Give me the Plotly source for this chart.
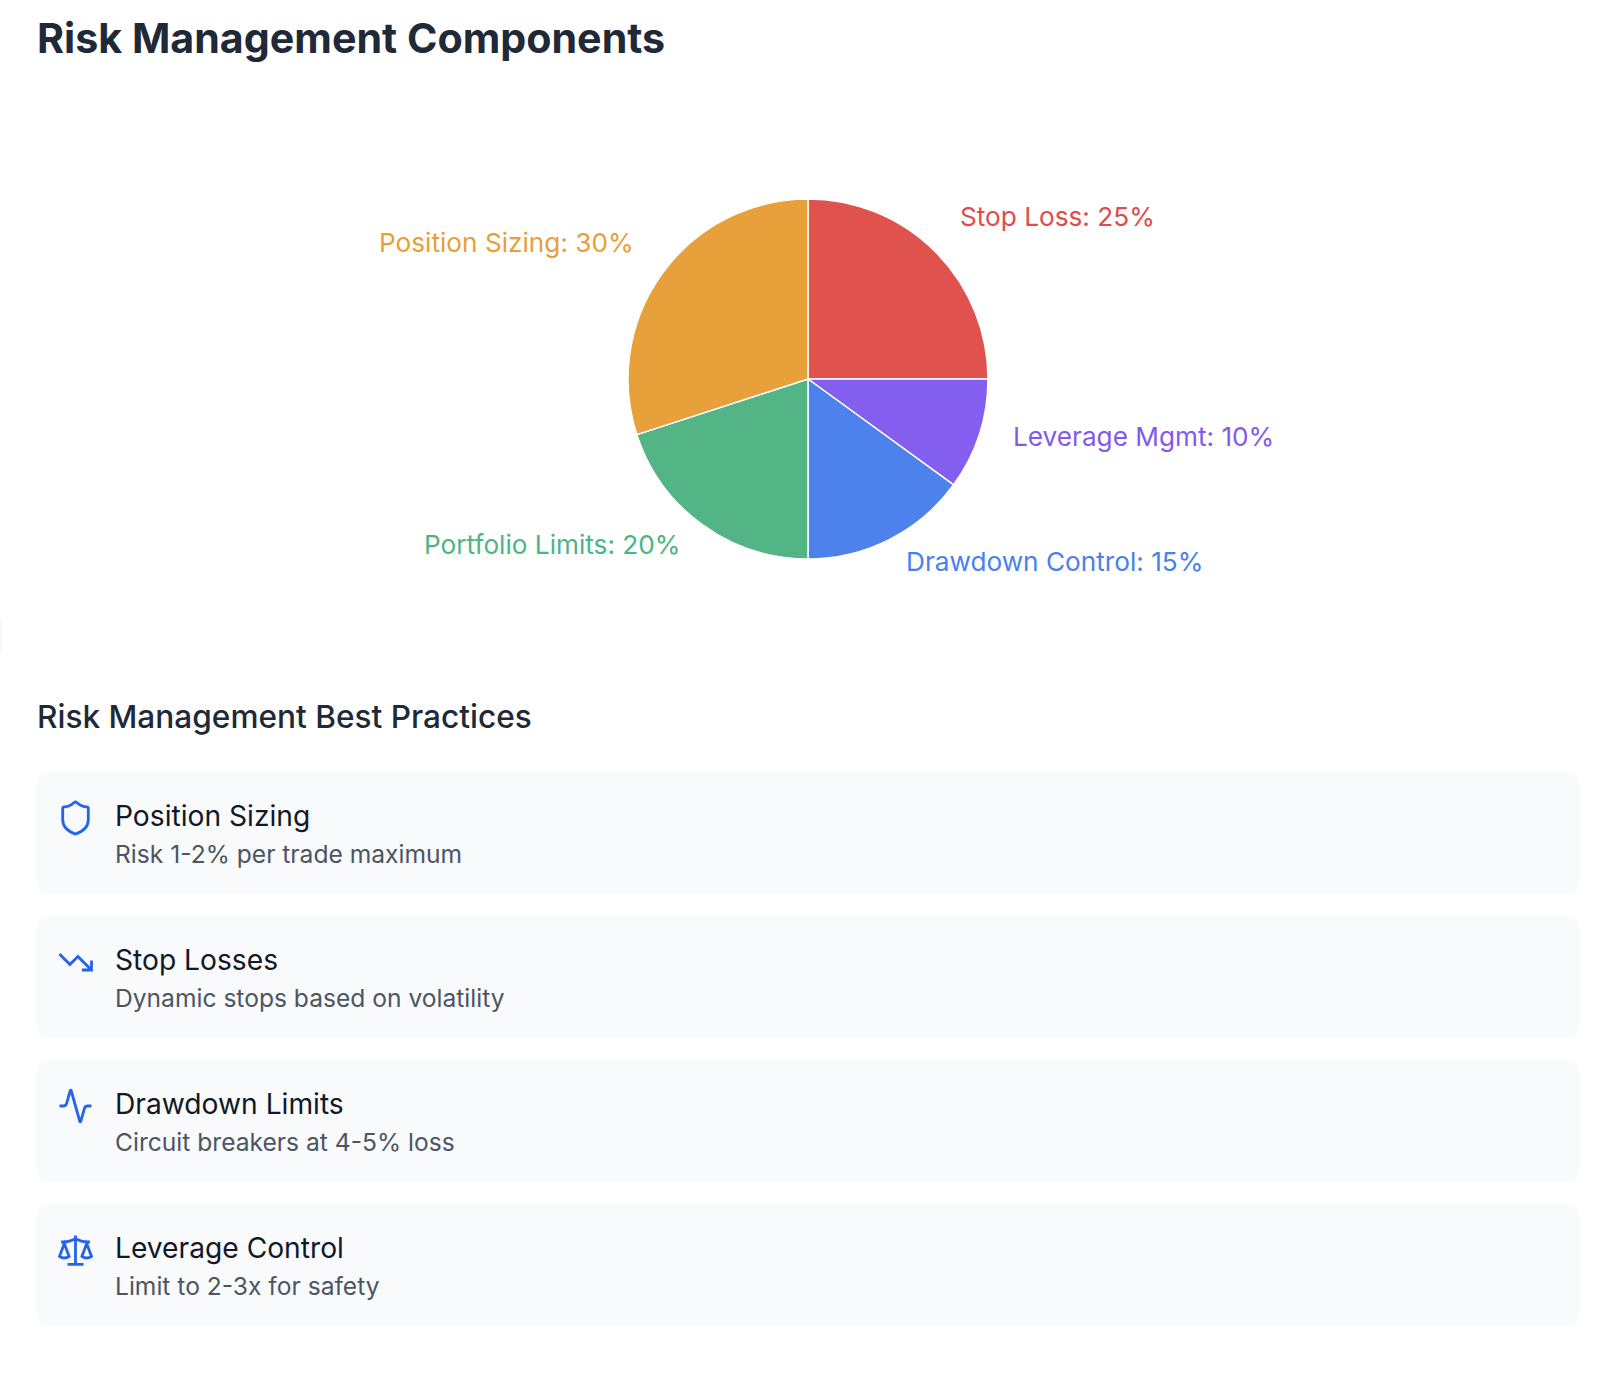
import math
import re

import plotly.graph_objects as go

# pie data, clockwise from 12 o'clock
slice_names = ["Stop Loss", "Leverage Mgmt", "Drawdown Control", "Portfolio Limits", "Position Sizing"]
slice_values = [25, 10, 15, 20, 30]
slice_colors = ["#DF524E", "#845FEF", "#4D82EC", "#53B585", "#E8A13A"]
label_colors = ["#E04B4B", "#8259EF", "#4A80EE", "#4CB582", "#E89F36"]

card_titles = ["Position Sizing", "Stop Losses", "Drawdown Limits", "Leverage Control"]
card_texts = [
    "Risk 1-2% per trade maximum",
    "Dynamic stops based on volatility",
    "Circuit breakers at 4-5% loss",
    "Limit to 2-3x for safety",
]

# 24x24 icon outlines
icons = [
    "M20 13 C20 18 16.5 20.5 12.34 21.95 Q12 22.05 11.67 21.94 C7.5 20.5 4 18 4 13 L4 6 Q4 5 5 5 "
    "C7 5 9.5 3.8 11.24 2.28 Q12 1.7 12.76 2.28 C14.51 3.81 17 5 19 5 Q20 5 20 6 Z",
    "M22 17 L13.5 8.5 L8.5 13.5 L2 7 M16 17 L22 17 L22 11",
    "M22 12 L19.52 12 Q18 12 17.59 13.46 L15.24 21.82 Q15 22.1 14.76 21.82 L9.24 2.18 Q9 1.9 8.76 2.18 "
    "L6.41 10.54 Q6 12 4.49 12 L2 12",
    "M16 16 L19 8 L22 16 C21.13 16.65 20.08 17 19 17 C17.92 17 16.87 16.65 16 16 Z "
    "M2 16 L5 8 L8 16 C7.13 16.65 6.08 17 5 17 C3.92 17 2.87 16.65 2 16 Z "
    "M7 21 L17 21 M12 3 L12 21 M3 7 L5 7 C7 7 10 6 12 5 C14 6 17 7 19 7 L21 7",
]

W, H = 1600, 1385
FONT = "Inter"
cx, cy, r = 808, 379, 180
label_rx = 214
label_ry = 216


def icon_path(d, mid_x, mid_y, scale=1.6):
    out = []
    for cmd, nums in re.findall(r"([MLCQZ])([^MLCQZ]*)", d):
        vals = [float(v) for v in nums.split()]
        pts = []
        for i in range(0, len(vals), 2):
            pts.append(f"{mid_x + (vals[i] - 12) * scale:.2f},{mid_y + (vals[i + 1] - 12) * scale:.2f}")
        out.append(cmd + " ".join(pts))
    return " ".join(out)


def card_path(x0, y0, x1, y1, rad=15):
    return (
        f"M{x0 + rad},{y0} L{x1 - rad},{y0} Q{x1},{y0} {x1},{y0 + rad} L{x1},{y1 - rad} Q{x1},{y1} {x1 - rad},{y1} "
        f"L{x0 + rad},{y1} Q{x0},{y1} {x0},{y1 - rad} L{x0},{y0 + rad} Q{x0},{y0} {x0 + rad},{y0} Z"
    )


def add_text(fig, x, y, text, size, color, weight=400, anchor="left"):
    fig.add_annotation(
        x=x, y=y, text=text, showarrow=False, xanchor=anchor, yanchor="middle", borderpad=0,
        font=dict(family=FONT, size=size, color=color, weight=weight),
    )


fig = go.Figure()

# hidden pixel axes, the shapes and texts hang off these
fig.add_trace(go.Scatter(x=[0], y=[0], mode="markers", marker=dict(opacity=0), hoverinfo="skip", showlegend=False))

fig.add_trace(
    go.Pie(
        labels=slice_names,
        values=slice_values,
        sort=False,
        direction="clockwise",
        rotation=0,
        textinfo="none",
        hoverinfo="label+percent",
        showlegend=False,
        marker=dict(colors=slice_colors, line=dict(color="white", width=1.5)),
        domain=dict(x=[(cx - r) / W, (cx + r) / W], y=[1 - (cy + r) / H, 1 - (cy - r) / H]),
    )
)

add_text(fig, 35.5, 38, "Risk Management Components", 41.2, "#1F2937", 700)
add_text(fig, 36, 716.5, "Risk Management Best Practices", 31.6, "#1F2937", 500)

# slice labels sit on a ring around the pie
total = sum(slice_values)
running = 0
for name, val, col in zip(slice_names, slice_values, label_colors):
    mid = (running + val / 2) / total * 2 * math.pi
    running += val
    lx = cx + label_rx * math.sin(mid)
    ly = cy - label_ry * math.cos(mid) - 9.5
    add_text(fig, lx, ly, f"{name}: {val}%", 26.2, col, 400, "left" if math.sin(mid) > 0 else "right")

for i, (title, desc, icon) in enumerate(zip(card_titles, card_texts, icons)):
    top = 771 + i * 144
    fig.add_shape(
        type="path", path=card_path(36, top, 1580, top + 123), xref="x", yref="y",
        fillcolor="#F9FAFB", line_width=0, layer="below",
    )
    fig.add_shape(
        type="path", path=icon_path(icon, 75.5, top + 47), xref="x", yref="y",
        fillcolor="rgba(0,0,0,0)", line=dict(color="#2563EB", width=2.8),
    )
    add_text(fig, 114, top + 44.5, title, 28.2, "#111827", 400)
    add_text(fig, 114, top + 83, desc, 24.6, "#4B5563", 400)

# faint sliver at the left edge
fig.add_shape(type="rect", x0=0, x1=2, y0=617, y1=653, xref="x", yref="y", fillcolor="#F8F8F8", line_width=0, layer="below")

fig.update_layout(
    width=W,
    height=H,
    margin=dict(l=0, r=0, t=0, b=0),
    paper_bgcolor="white",
    plot_bgcolor="white",
    xaxis=dict(range=[0, W], visible=False, fixedrange=True),
    yaxis=dict(range=[H, 0], visible=False, fixedrange=True),
)

fig.write_html("out.html", post_script="document.body.style.margin='0';", config=dict(displayModeBar=False))
